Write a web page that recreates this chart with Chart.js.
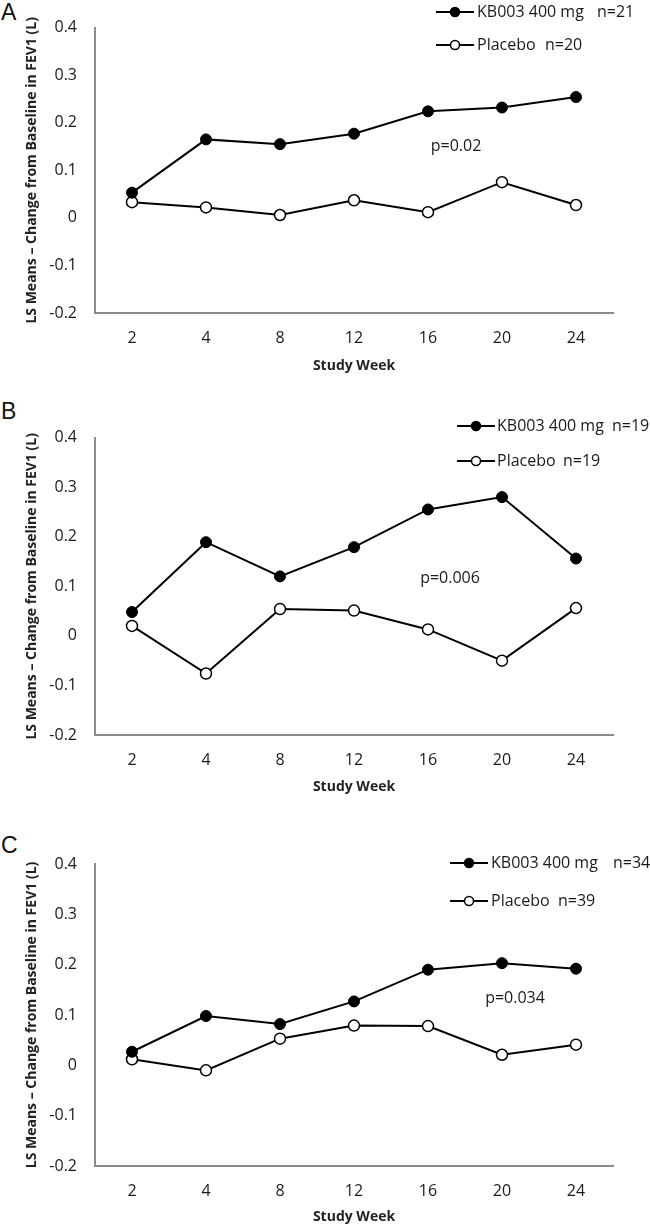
<!DOCTYPE html>
<html>
<head>
<meta charset="utf-8">
<script src="https://cdn.jsdelivr.net/npm/chart.js@4.4.1/dist/chart.umd.min.js"></script>
<style>
  body { margin: 0; background: #fff; width: 650px; height: 1227px; position: relative; overflow: hidden; }
  canvas { position: absolute; left: 0; }
  .letter { position: absolute; left: 1px; font: 23px "Liberation Sans", Arial, sans-serif; color: #111; line-height: 1; }
</style>
</head>
<body>
<div class="letter" style="top:1px">A</div>
<canvas id="chartA" width="650" height="376" style="top:0px"></canvas>
<div class="letter" style="top:400px">B</div>
<canvas id="chartB" width="650" height="387" style="top:410px"></canvas>
<div class="letter" style="top:834px">C</div>
<canvas id="chartC" width="650" height="407" style="top:820px"></canvas>

<script>
// study weeks (x categories)
const weeks = ['2', '4', '8', '12', '16', '20', '24'];

// LS mean change from baseline in FEV1 (L)
const kbA  = [0.053, 0.165, 0.155, 0.177, 0.224, 0.232, 0.254];
const pboA = [0.033, 0.022, 0.006, 0.037, 0.012, 0.075, 0.027];
const kbB  = [0.048, 0.189, 0.120, 0.179, 0.255, 0.280, 0.156];
const pboB = [0.020, -0.076, 0.054, 0.051, 0.013, -0.050, 0.056];
const kbC  = [0.027, 0.098, 0.082, 0.127, 0.190, 0.203, 0.192];
const pboC = [0.012, -0.010, 0.053, 0.079, 0.078, 0.021, 0.041];

const nKb  = ['n=21', 'n=19', 'n=34'];
const nPbo = ['n=20', 'n=19', 'n=39'];
const pValues = ['p=0.02', 'p=0.006', 'p=0.034'];

const yMin = -0.2, yMax = 0.4, yStep = 0.1;
const yTitle = 'LS Means \u2013 Change from Baseline in FEV1 (L)';
const xTitle = 'Study Week';

const AXIS = '#8c8c8c';
const TXT = '#1a1a1a';

// panel placement on the page
const panels = [
  { id: 'chartA', top: 0,   areaTop: 16,  areaBottom: 313,  titleY: 366,  lineX0: 436, lineX1: 474, textX: 477, rowY: [12, 45],   nX: [597, 545], pX: 456, pY: 146 },
  { id: 'chartB', top: 410, areaTop: 437, areaBottom: 735,  titleY: 787,  lineX0: 457, lineX1: 495, textX: 497, rowY: [426, 461], nX: [612, 563], pX: 450, pY: 578 },
  { id: 'chartC', top: 820, areaTop: 864, areaBottom: 1166, titleY: 1217, lineX0: 450, lineX1: 488, textX: 491, rowY: [863, 901], nX: [613, 558], pX: 515, pY: 998 },
];
const series = [[kbA, pboA], [kbB, pboB], [kbC, pboC]];

const deco = {
  id: 'deco',
  afterDraw(chart, args, o) {
    const ctx = chart.ctx;
    ctx.save();
    ctx.textBaseline = 'middle';
    o.rows.forEach(r => {
      const y = r.y - o.top;
      ctx.strokeStyle = '#000';
      ctx.lineWidth = 2;
      ctx.beginPath(); ctx.moveTo(o.lineX0, y); ctx.lineTo(o.lineX1, y); ctx.stroke();
      ctx.beginPath(); ctx.arc((o.lineX0 + o.lineX1) / 2, y, 4.5, 0, Math.PI * 2);
      ctx.fillStyle = r.filled ? '#000' : '#fff';
      ctx.fill();
      ctx.lineWidth = 1.5;
      ctx.stroke();
      ctx.fillStyle = TXT;
      ctx.font = '16px "Open Sans"';
      ctx.textAlign = 'left';
      ctx.fillText(r.label, o.textX, y);
      ctx.fillText(r.n, r.nX, y);
    });
    ctx.textAlign = 'center';
    ctx.font = '16px "Open Sans"';
    ctx.fillStyle = TXT;
    ctx.fillText(o.pText, o.pX, o.pY - o.top);
    ctx.restore();
  }
};

function build() {
  panels.forEach((p, i) => {
    const [kb, pbo] = series[i];
    const xH = p.titleY + 10 - p.areaBottom;
    new Chart(document.getElementById(p.id), {
      type: 'line',
      data: {
        labels: weeks,
        datasets: [
          { label: 'KB003 400 mg', data: kb, borderColor: '#000', borderWidth: 2, tension: 0,
            pointRadius: 5.5, pointBackgroundColor: '#000', pointBorderColor: '#000', pointBorderWidth: 1 },
          { label: 'Placebo', data: pbo, borderColor: '#000', borderWidth: 2, tension: 0,
            pointRadius: 5.5, pointBackgroundColor: '#fff', pointBorderColor: '#000', pointBorderWidth: 1.5 },
        ],
      },
      options: {
        responsive: false,
        animation: false,
        layout: { padding: { top: p.areaTop - p.top, right: 37, left: 0, bottom: 0 } },
        plugins: {
          legend: { display: false },
          tooltip: { enabled: false },
          deco: {
            top: p.top, lineX0: p.lineX0, lineX1: p.lineX1, textX: p.textX,
            rows: [
              { y: p.rowY[0], label: 'KB003 400 mg', n: nKb[i], nX: p.nX[0], filled: true },
              { y: p.rowY[1], label: 'Placebo', n: nPbo[i], nX: p.nX[1], filled: false },
            ],
            pText: pValues[i], pX: p.pX, pY: p.pY,
          },
        },
        scales: {
          x: {
            type: 'category',
            offset: true,
            grid: { display: false, drawTicks: false },
            border: { display: true, color: AXIS, width: 2 },
            ticks: { font: { family: 'Open Sans', size: 16 }, color: TXT, padding: 16, maxRotation: 0 },
            title: { display: true, text: xTitle, color: '#222', font: { family: 'Open Sans', size: 14, weight: 'bold' }, padding: { top: 0, bottom: 2 } },
            afterFit: s => { s.height = xH; },
          },
          y: {
            min: yMin, max: yMax,
            grid: { display: false, drawTicks: false },
            border: { display: true, color: AXIS, width: 2 },
            ticks: {
              stepSize: yStep, font: { family: 'Open Sans', size: 16 }, color: TXT, padding: 18,
              callback: v => (Math.round(v * 10) / 10).toString(),
            },
            title: { display: true, text: yTitle, color: '#222', font: { family: 'Open Sans', size: 14, weight: 'bold' }, padding: { top: 24, bottom: 0 } },
            afterFit: s => { s.width = 95; },
          },
        },
      },
      plugins: [deco],
    });
  });
}

Promise.all([
  document.fonts.load('16px "Open Sans"'),
  document.fonts.load('bold 14px "Open Sans"'),
]).then(build, build);
</script>
</body>
</html>
